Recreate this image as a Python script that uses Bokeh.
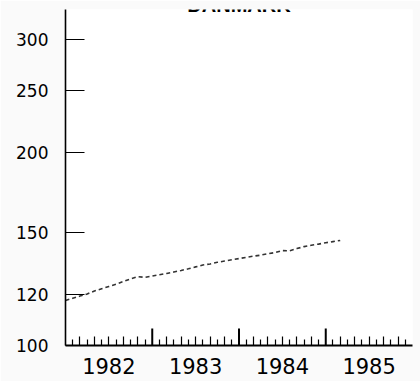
import math
from bokeh.plotting import figure
from bokeh.models import Range1d, FixedTicker, CustomJSTickFormatter, NumeralTickFormatter, Label
from bokeh.embed import file_html
from bokeh.resources import INLINE

# ---- data ----
title_text = "DANMARK"
months = [
    "1982-01", "1982-02", "1982-03", "1982-04", "1982-05", "1982-06",
    "1982-07", "1982-08", "1982-09", "1982-10", "1982-11", "1982-12",
    "1983-01", "1983-02", "1983-03", "1983-04", "1983-05", "1983-06",
    "1983-07", "1983-08", "1983-09", "1983-10", "1983-11", "1983-12",
    "1984-01", "1984-02", "1984-03", "1984-04", "1984-05", "1984-06",
    "1984-07", "1984-08", "1984-09", "1984-10", "1984-11", "1984-12",
    "1985-01", "1985-02", "1985-03",
]
index_values = [
    117.5, 118.5, 119.4, 120.3, 121.6, 122.6,
    123.6, 124.6, 125.8, 127.0, 128.0, 127.7,
    128.3, 128.9, 129.5, 130.2, 130.9, 131.7,
    132.6, 133.5, 134.0, 134.8, 135.4, 136.0,
    136.6, 137.2, 137.8, 138.3, 139.0, 139.6,
    140.6, 140.5, 141.6, 142.6, 143.3, 143.9,
    144.6, 145.2, 145.8,
]
y_ticks = [100, 120, 150, 200, 250, 300]
years = [1982, 1983, 1984, 1985]


def to_year(m):
    y, mo = m.split("-")
    return int(y) + (int(mo) - 1) / 12.0


x_vals = [to_year(m) for m in months]

# tick positions derived from the calendar
odd_month_ticks = [yr + k / 12.0 for yr in years for k in (2, 4, 6, 8, 10)]
even_month_ticks = [yr + k / 12.0 for yr in years for k in (1, 3, 5, 7, 9, 11)]
year_ticks = years[1:]

p = figure(
    width=420, height=381,
    x_range=Range1d(1982, 1986), y_range=Range1d(100, 334),
    y_axis_type="log",
    output_backend="svg", toolbar_location=None,
    min_border_left=65, min_border_right=8, min_border_top=9, min_border_bottom=36,
)
p.background_fill_color = "white"
p.border_fill_color = "#fafafa"
p.outline_line_color = None
p.xgrid.visible = False
p.ygrid.visible = False

# x axis
xa = p.xaxis[0]
xa.ticker = FixedTicker(ticks=odd_month_ticks, minor_ticks=even_month_ticks)
xa.formatter = CustomJSTickFormatter(
    code="const f = tick - Math.floor(tick); return Math.abs(f - 0.5) < 1e-6 ? Math.floor(tick).toString() : '';"
)
xa.major_tick_in = 9
xa.major_tick_out = 0
xa.minor_tick_in = 6
xa.minor_tick_out = 0
xa.axis_line_width = 1.8
xa.major_tick_line_width = 1.2
xa.minor_tick_line_width = 1.2
xa.axis_line_color = "black"
xa.major_label_text_font = "DejaVu Sans"
xa.major_label_text_font_size = "21px"
xa.major_label_text_color = "black"
xa.major_label_standoff = 12

# y axis
ya = p.yaxis[0]
ya.ticker = FixedTicker(ticks=y_ticks, minor_ticks=[])
ya.formatter = NumeralTickFormatter(format="0")
ya.major_tick_in = 19
ya.major_tick_out = 0
ya.minor_tick_in = 0
ya.minor_tick_out = 0
ya.axis_line_width = 1.6
ya.major_tick_line_width = 1.2
ya.axis_line_color = "black"
ya.major_label_text_font = "DejaVu Sans"
ya.major_label_text_font_size = "17px"
ya.major_label_text_color = "black"
ya.major_label_standoff = 17

# year boundary ticks (half clipped by the frame)
p.scatter(x=year_ticks, y=[y_ticks[0]] * len(year_ticks), marker="dash",
          angle=math.pi / 2, size=34, line_color="black", line_width=2)

# series
p.line(x_vals, index_values, line_color="#333333", line_width=1.6, line_dash="4 3")

# title (mostly cut at top as in reference)
p.add_layout(Label(x=1984.0, y=339, text=title_text, text_align="center",
                   text_baseline="alphabetic", text_font="Liberation Sans",
                   text_font_style="bold", text_font_size="20px", text_color="black"))

open("out.html", "w").write(file_html(p, INLINE))
